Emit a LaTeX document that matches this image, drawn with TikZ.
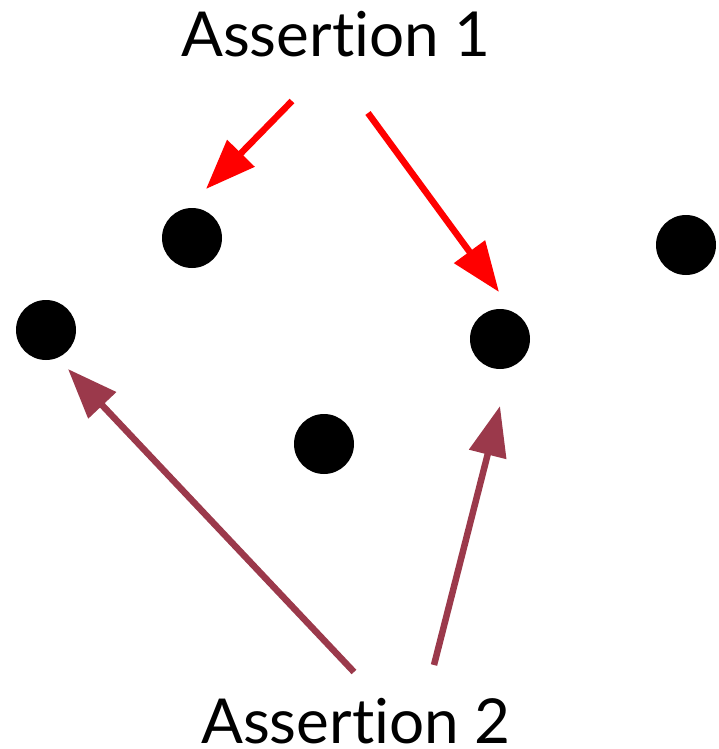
\documentclass[tikz,border=0pt]{standalone}
\usepackage{fontspec}
\setmainfont{Lato}[Ligatures=NoCommon]
\usetikzlibrary{arrows.meta}
\definecolor{brightred}{RGB}{255,0,0}
\definecolor{wine}{RGB}{155,57,75}
\tikzset{
  dot/.style={circle,fill=black,inner sep=0pt,minimum size=60pt},
  lbl/.style={anchor=base,inner sep=0pt,font=\fontsize{62}{62}\selectfont},
  arr/.style={line width=6.5pt,-{Triangle[length=50pt,width=37pt]}},
}
\begin{document}
\begin{tikzpicture}[x=1pt,y=-1pt]
\useasboundingbox (0,0) rectangle (718,749);
\node[dot] (d1) at (192,238) {};
\node[dot] (d2) at (46,330) {};
\node[dot] (d3) at (324,444) {};
\node[dot] (d4) at (500,339) {};
\node[dot] (d5) at (686,245) {};
\node[lbl] (a1) at (336,57) {Assertion 1};
\node[lbl] (a2) at (356,743) {Assertion 2};
\coordinate (t1) at (292,101);
\coordinate (h1) at (206,189);
\coordinate (t2) at (368,113);
\coordinate (h2) at (499,292);
\coordinate (t3) at (354,672);
\coordinate (h3) at (68,369);
\coordinate (t4) at (434,665);
\coordinate (h4) at (500,406);
\draw[arr,brightred] (t1) -- (h1);
\draw[arr,brightred] (t2) -- (h2);
\draw[arr,wine] (t3) -- (h3);
\draw[arr,wine] (t4) -- (h4);
\end{tikzpicture}
\end{document}
